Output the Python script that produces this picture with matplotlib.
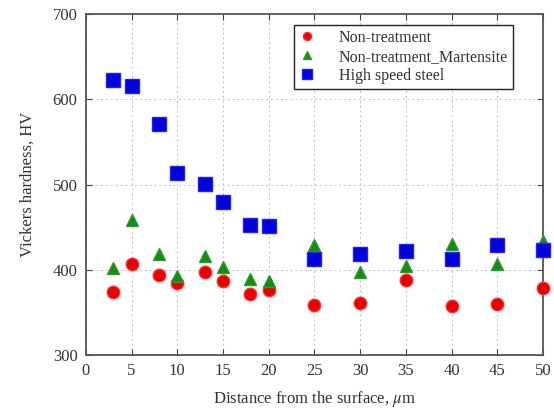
import numpy as np
import matplotlib.pyplot as plt

plt.rcParams['font.family'] = ['Liberation Serif', 'DejaVu Serif']
plt.rcParams['mathtext.fontset'] = 'stix'

# distance from surface (um)
dist = [3, 5, 8, 10, 13, 15, 18, 20, 25, 30, 35, 40, 45, 50]

# hardness values
hv_non = [374, 407, 394, 385, 397, 387, 372, 376, 359, 361, 388, 358, 360, 379]
hv_mart = [402, 459, 418, 393, 416, 403, 389, 387, 429, 397, 405, 430, 407, 434]
hv_hss = [623, 615, 571, 514, 501, 480, 452, 451, 413, 419, 422, 413, 429, 423]

fig = plt.figure(figsize=(5.54, 4.11), dpi=100)
ax = fig.add_axes([0.155, 0.136, 0.825, 0.830])

ax.plot(dist, hv_non, 'o', color='#e80000', mec='#ff3030', ms=9, ls='none',
        label='Non-treatment', zorder=3, clip_on=False)
ax.plot(dist, hv_mart, '^', color='#178a17', mec='#2a9a2a', ms=9, ls='none',
        label='Non-treatment_Martensite', zorder=3, clip_on=False)
ax.plot(dist, hv_hss, 's', color='#0000d8', mec='#2020ff', ms=10, ls='none',
        label='High speed steel', zorder=4, clip_on=False)

ax.set_xlim(0, 50)
ax.set_ylim(300, 700)
ax.set_xticks(np.arange(0, 51, 5))
ax.set_yticks([300, 400, 500, 600, 700])

ax.grid(True, color='#b8b8e0', linestyle=(0, (2, 3)), linewidth=0.7)
ax.tick_params(direction='in', top=True, right=True, length=4, color='#444444',
               labelsize=12, labelcolor='#333333', pad=6)
for sp in ax.spines.values():
    sp.set_color('#555555')
    sp.set_linewidth(1.3)

ax.set_xlabel(r'Distance from the surface, $\mathit{\mu}$m', fontsize=12, color='#333333', labelpad=7)
ax.set_ylabel('Vickers hardness, HV', fontsize=12, color='#333333', labelpad=12)

leg = ax.legend(loc='upper right', bbox_to_anchor=(0.934, 0.968), fancybox=False, framealpha=1,
                edgecolor='#222222', fontsize=11.5, handlelength=1.0, handletextpad=1.5,
                borderpad=0.3, labelspacing=0.2, markerscale=0.65, borderaxespad=0)
leg.get_frame().set_linewidth(1.0)
for t in leg.get_texts():
    t.set_color('#333333')

fig.savefig('out.png', dpi=100)
